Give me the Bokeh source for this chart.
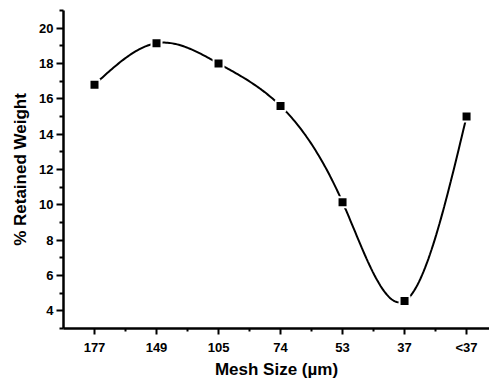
import numpy as np
from bokeh.plotting import figure
from bokeh.models import FixedTicker, Range1d
from bokeh.embed import file_html
from bokeh.resources import INLINE

mesh_labels = ["177", "149", "105", "74", "53", "37", "<37"]
retained = [16.8, 19.15, 18.0, 15.6, 10.15, 4.55, 15.0]
y_ticks = [4, 6, 8, 10, 12, 14, 16, 18, 20]
y_minor = [3, 5, 7, 9, 11, 13, 15, 17, 19, 21]

x = np.arange(len(mesh_labels), dtype=float)
y = np.array(retained, dtype=float)

# natural cubic spline through the points
n = len(x)
h = np.diff(x)
A = np.zeros((n, n)); b = np.zeros(n)
A[0, 0] = 1; A[-1, -1] = 1
for i in range(1, n - 1):
    A[i, i - 1] = h[i - 1]; A[i, i] = 2 * (h[i - 1] + h[i]); A[i, i + 1] = h[i]
    b[i] = 3 * ((y[i + 1] - y[i]) / h[i] - (y[i] - y[i - 1]) / h[i - 1])
c = np.linalg.solve(A, b)
xs, ys = [], []
for i in range(n - 1):
    bi = (y[i + 1] - y[i]) / h[i] - h[i] * (2 * c[i] + c[i + 1]) / 3
    di = (c[i + 1] - c[i]) / (3 * h[i])
    t = np.linspace(0, h[i], 40)
    xs.extend(x[i] + t)
    ys.extend(y[i] + bi * t + c[i] * t ** 2 + di * t ** 3)

p = figure(width=489, height=381, output_backend="svg", toolbar_location=None,
           x_range=Range1d(-0.5, 6.37), y_range=Range1d(3.0, 21.0),
           min_border_left=63, min_border_right=0, min_border_top=10, min_border_bottom=51)
p.outline_line_color = None
p.xgrid.visible = False
p.ygrid.visible = False

p.line(xs, ys, line_color="black", line_width=2)
p.scatter(x, y, marker="square", size=10, fill_color="black", line_color="white", line_width=2)

p.xaxis.ticker = FixedTicker(ticks=list(x), minor_ticks=list(x[:-1] + 0.5))
p.xaxis.major_label_overrides = {i: lab for i, lab in enumerate(mesh_labels)}
p.yaxis.ticker = FixedTicker(ticks=y_ticks, minor_ticks=y_minor)

for ax in (p.xaxis, p.yaxis):
    ax.axis_line_width = 2.5
    ax.axis_line_color = "black"
    ax.major_tick_line_width = 2
    ax.minor_tick_line_width = 2
    ax.major_tick_in = 0
    ax.minor_tick_in = 0
    ax.major_label_text_font = "Liberation Sans"
    ax.major_label_text_font_style = "bold"
    ax.major_label_text_font_size = "13px"
    ax.major_label_text_color = "black"
    ax.axis_label_text_font = "Liberation Sans"
    ax.axis_label_text_font_style = "bold"
    ax.axis_label_text_font_size = "17px"
    ax.axis_label_text_color = "black"

p.yaxis.major_tick_out = 7
p.yaxis.minor_tick_out = 4
p.xaxis.major_tick_out = 6
p.xaxis.minor_tick_out = 3

p.xaxis.axis_label = "Mesh Size (µm)"
p.yaxis.axis_label = "% Retained Weight"
p.xaxis.major_label_standoff = 5
p.yaxis.major_label_standoff = 3
p.xaxis.axis_label_standoff = 2
p.yaxis.axis_label_standoff = 6

open("out.html", "w").write(file_html(p, INLINE))
